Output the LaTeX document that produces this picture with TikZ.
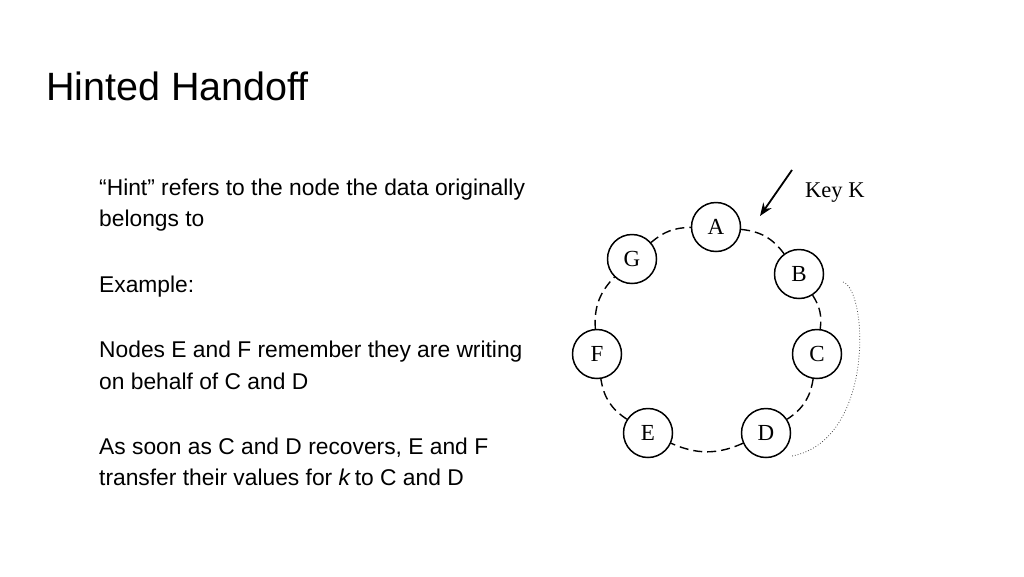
\documentclass[tikz,border=0pt]{standalone}
\usepackage{fontspec}
\setmainfont[Ligatures=NoCommon]{Liberation Sans}
\newfontfamily\serifnode{Liberation Serif}
\usetikzlibrary{arrows.meta}
\begin{document}
\begin{tikzpicture}[x=1pt,y=-1pt,
  ringnode/.style={circle,draw,line width=1.5pt,fill=white,minimum size=49pt,inner sep=0pt,font=\serifnode\fontsize{23}{23}\selectfont},
  ringedge/.style={dash pattern=on 9pt off 5pt,line width=1.4pt},
  bodytext/.style={anchor=base west,inner sep=0pt,font=\fontsize{22.8}{26}\selectfont}]
\useasboundingbox (0,0) rectangle (1024,576);
\fill[white] (0,0) rectangle (1024,576);
\node[anchor=base west,inner sep=0pt,font=\fontsize{39.5}{44}\selectfont] (title) at (46,100) {Hinted Handoff};
\node[bodytext] (t1) at (99,195) {“Hint” refers to the node the data originally};
\node[bodytext] (t2) at (99,226) {belongs to};
\node[bodytext] (t3) at (99,292) {Example:};
\node[bodytext] (t4) at (99,357) {Nodes E and F remember they are writing};
\node[bodytext] (t5) at (99,389) {on behalf of C and D};
\node[bodytext] (t6) at (99,454) {As soon as C and D recovers, E and F};
\node[bodytext] (t7) at (99,485) {transfer their values for \textit{k}\,to C and D};
% ring
\node[ringnode] (A) at (716,227) {A};
\node[ringnode] (B) at (799,274) {B};
\node[ringnode] (C) at (817,354) {C};
\node[ringnode] (D) at (766,433) {D};
\node[ringnode] (E) at (648,433) {E};
\node[ringnode] (F) at (597,354) {F};
\node[ringnode] (G) at (632,259) {G};
\draw[ringedge] (A) to[bend left=24] (B);
\draw[ringedge] (B) to[bend left=20] (C);
\draw[ringedge] (C) to[bend left=24] (D);
\draw[ringedge] (D) to[bend left=24] (E);
\draw[ringedge] (E) to[bend left=24] (F);
\draw[ringedge] (F) to[bend left=24] (G);
\draw[ringedge] (G) to[bend left=20] (A);
% dotted link
\coordinate (p1) at (843,282);
\coordinate (p2) at (792,456);
\draw[dotted,line width=0.8pt,black!70] (p1) .. controls (868,290) and (875,440) .. (p2);
% key arrow
\node[anchor=base west,inner sep=0pt,font=\serifnode\fontsize{22.5}{22}\selectfont] (key) at (805,197) {Key K};
\coordinate (k1) at (792,170);
\coordinate (k2) at (760,216);
\draw[line width=1.8pt,-{Stealth[length=13pt,width=10pt]}] (k1) -- (k2);
\end{tikzpicture}
\end{document}
